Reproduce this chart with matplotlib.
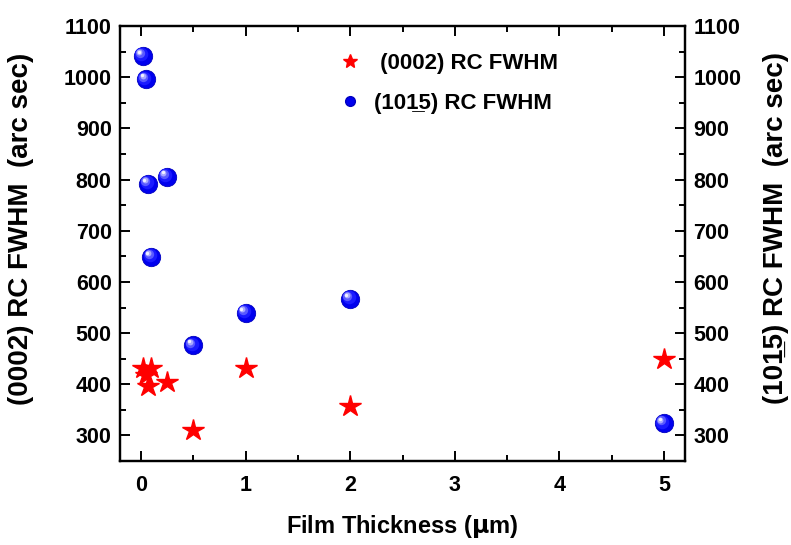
import numpy as np
import matplotlib
matplotlib.use("Agg")
import matplotlib.pyplot as plt
from matplotlib.lines import Line2D
from matplotlib.ticker import MultipleLocator
import matplotlib.transforms as mtransforms

plt.rcParams["font.family"] = ["Liberation Sans", "DejaVu Sans"]
plt.rcParams["font.weight"] = "bold"

# ── Data ─────────────────────────────────────────────────────
thick_0002 = [0.02, 0.05, 0.07, 0.1, 0.25, 0.5, 1, 2, 5]
fwhm_0002 = [432, 418, 396, 432, 404, 311, 432, 358, 450]

thick_1015 = [0.02, 0.05, 0.07, 0.1, 0.25, 0.5, 1, 2, 5]
fwhm_1015 = [1042, 996, 792, 649, 806, 476, 540, 567, 324]

lab_1015 = "(101\u03325) RC FWHM"

# ── Figure ───────────────────────────────────────────────────
fig = plt.figure(figsize=(7.91, 5.45), dpi=100)
ax = fig.add_axes([0.1517, 0.154, 0.7143, 0.798])

ax.plot(thick_0002, fwhm_0002, linestyle="none", marker="*", ms=16,
        color="#ff0000", mec="#ff0000", zorder=3)

# shaded spheres: base disc + highlight layers offset up-left
ax.scatter(thick_1015, fwhm_1015, s=175, color="#0000ee",
           edgecolors="#0000c0", linewidths=0.6, zorder=4)
shades = [(95, "#1a1aff", 1.2), (45, "#5a5aff", 2.0),
          (18, "#a8a8ff", 2.6), (6, "#f0f0ff", 3.0)]
for s, c, d in shades:
    tr = mtransforms.offset_copy(ax.transData, fig=fig, x=-d, y=d,
                                 units="points")
    ax.scatter(thick_1015, fwhm_1015, s=s, color=c, linewidths=0,
               transform=tr, zorder=5)

ax.set_xlim(-0.2, 5.2)
ax.set_ylim(250, 1100)
ax.xaxis.set_major_locator(MultipleLocator(1))
ax.xaxis.set_minor_locator(MultipleLocator(0.5))
ax.yaxis.set_major_locator(plt.FixedLocator(np.arange(300, 1101, 100)))
ax.yaxis.set_minor_locator(MultipleLocator(50))

ax2 = ax.twinx()
ax2.set_ylim(ax.get_ylim())
ax2.yaxis.set_major_locator(plt.FixedLocator(np.arange(300, 1101, 100)))
ax2.yaxis.set_minor_locator(MultipleLocator(50))

for a in (ax, ax2):
    for sp in a.spines.values():
        sp.set_linewidth(1.6)
    a.tick_params(which="major", direction="in", length=7, width=1.4,
                  labelsize=15.5, pad=6)
    a.tick_params(which="minor", direction="in", length=4, width=1.4)
ax.tick_params(which="both", top=True)
ax.tick_params(axis="x", pad=10)

ax.set_xlabel("Film Thickness ($\\mathbf{\\mu}$m)", fontsize=17,
              fontweight="bold", labelpad=12)
ax.set_ylabel("(0002) RC FWHM  (arc sec)", fontsize=20, fontweight="bold")
ax2.set_ylabel(lab_1015 + "  (arc sec)", fontsize=20, fontweight="bold",
               rotation=90)
ax.yaxis.set_label_coords(-0.152, 0.535)
ax2.yaxis.set_label_coords(1.138, 0.535)

handles = [Line2D([], [], ls="none", marker="*", ms=10, color="#ff0000"),
           Line2D([], [], ls="none", marker="o", ms=7, color="#0000ee",
                  mec="#0000c0")]
ax.legend(handles, [" (0002) RC FWHM", lab_1015], loc="upper left",
          bbox_to_anchor=(0.348, 0.985), frameon=False, fontsize=16,
          handletextpad=0.5, labelspacing=0.85, handlelength=1.2)

fig.savefig("out.png", dpi=100)
